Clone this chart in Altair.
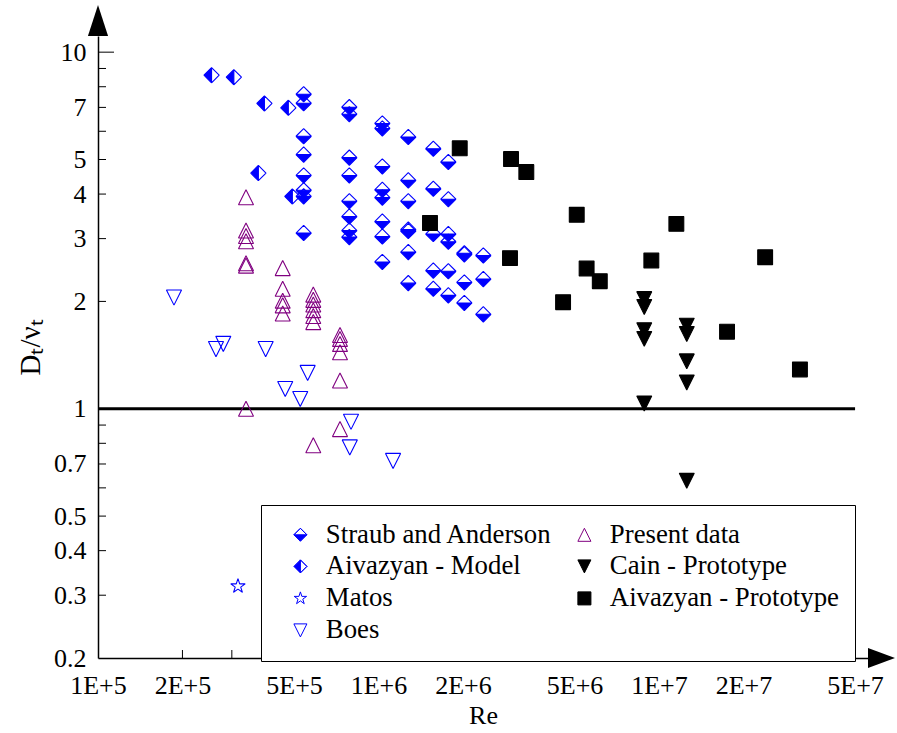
import json
import altair as alt
import pandas as pd

# ---------------- data ----------------
# legend is filled column by column (4 rows x 2 columns)
series_order = ["Straub and Anderson", "Aivazyan - Model", "Matos", "Boes",
                "Present data", "Cain - Prototype", "Aivazyan - Prototype"]

straub_re = [5.41e5] * 8 + [7.87e5] * 8 + [1.032e6] * 8 + [1.277e6] * 7 + \
            [1.568e6] * 5 + [1.774e6] * 6 + [2.023e6] * 4 + [2.364e6] * 3
straub_d = [7.62, 7.19, 5.81, 5.16, 4.51, 4.10, 3.94, 3.11,
            7.01, 6.70, 5.06, 4.51, 3.82, 3.46, 3.16, 3.03,
            6.31, 6.11, 4.78, 4.11, 3.91, 3.35, 3.04, 2.58,
            5.78, 4.37, 3.82, 3.18, 3.15, 2.75, 2.25,
            5.36, 4.14, 3.09, 2.44, 2.17,
            4.92, 3.87, 3.09, 2.94, 2.43, 2.08,
            2.73, 2.71, 2.26, 1.98,
            2.69, 2.31, 1.84]

model_re = [2.54e5, 3.05e5, 3.92e5, 4.77e5, 3.73e5, 4.93e5]
model_d = [8.62, 8.51, 7.18, 6.98, 4.58, 3.94]

matos_re = [3.155e5]
matos_d = [0.318]

boes_re = [1.866e5, 2.634e5, 2.797e5, 3.96e5, 5.59e5, 4.65e5, 5.26e5, 7.98e5, 7.90e5, 1.127e6]
boes_d = [2.05, 1.47, 1.52, 1.47, 1.26, 1.136, 1.065, 0.919, 0.779, 0.714]

present_re = [3.37e5] * 7 + [4.555e5] * 5 + [5.855e5] * 7 + [7.29e5] * 6
present_d = [3.92, 3.16, 3.05, 2.95, 2.56, 2.52, 1.0,
             2.48, 2.17, 2.01, 1.95, 1.85,
             2.09, 2.02, 1.96, 1.89, 1.82, 1.75, 0.79,
             1.61, 1.57, 1.52, 1.44, 1.20, 0.877]

cain_re = [8.86e6] * 5 + [1.256e7] * 5
cain_d = [2.03, 1.93, 1.66, 1.57, 1.035, 1.71, 1.62, 1.358, 1.185, 0.628]

aivproto_re = [1.948e6, 2.968e6, 3.365e6, 5.09e6, 1.153e7, 1.526e6, 2.943e6,
               9.39e6, 2.39e7, 5.52e6, 6.15e6, 4.55e6, 1.748e7, 3.18e7]
aivproto_d = [5.375, 5.015, 4.61, 3.50, 3.30, 3.32, 2.645,
              2.605, 2.66, 2.474, 2.279, 1.99, 1.645, 1.289]

# axis ticks / labels
x_label_values = [1e5, 2e5, 5e5, 1e6, 2e6, 5e6, 1e7, 2e7, 5e7]
x_label_texts = ["1E+5", "2E+5", "5E+5", "1E+6", "2E+6", "5E+6", "1E+7", "2E+7", "5E+7"]
x_minor_ticks = [2e5, 3e5, 4e5, 5e5, 6e5, 7e5, 8e5, 9e5,
                 2e6, 3e6, 4e6, 5e6, 6e6, 7e6, 8e6, 9e6,
                 2e7, 3e7, 4e7, 5e7]
y_label_values = [0.2, 0.3, 0.4, 0.5, 0.7, 1, 2, 3, 4, 5, 7, 10]
y_minor_ticks = [0.3, 0.4, 0.5, 0.6, 0.7, 0.8, 0.9, 2, 3, 4, 5, 6, 7, 8, 9]
y_major_ticks = [1, 10]

x_domain = [1e5, 5.56e7]
y_domain = [0.2, 11.1]
ref_level = 1.0

# ---------------- styling ----------------
FONT = "Liberation Serif"
BLUE = "#0000ff"
PURPLE = "#800080"

shape_paths = {
    "Straub and Anderson": "M -1 0 L 0 1 L 1 0 Z M -1 0 L 0 -1 L 1 0 L 0 -1 Z",
    "Aivazyan - Model": "M 0 -1 L -1 0 L 0 1 Z M 0 -1 L 1 0 L 0 1 L 1 0 Z",
    "Matos": ("M 0 -1 L 0.225 -0.309 L 0.951 -0.309 L 0.363 0.118 L 0.588 0.809 "
              "L 0 0.382 L -0.588 0.809 L -0.363 0.118 L -0.951 -0.309 L -0.225 -0.309 Z"),
    "Boes": "M -1 -1 L 1 -1 L 0 1 Z",
    "Present data": "M 0 -1 L 1 1 L -1 1 Z",
    "Cain - Prototype": "M -1 -1 L 1 -1 L 0 1 Z",
    "Aivazyan - Prototype": "M -1 -1 L 1 -1 L 1 1 L -1 1 Z",
}
stroke_colors = {"Straub and Anderson": BLUE, "Aivazyan - Model": BLUE, "Matos": BLUE,
                 "Boes": BLUE, "Present data": PURPLE, "Cain - Prototype": "black",
                 "Aivazyan - Prototype": "black"}
fill_colors = {"Straub and Anderson": BLUE, "Aivazyan - Model": BLUE, "Matos": "transparent",
               "Boes": "transparent", "Present data": "transparent", "Cain - Prototype": "black",
               "Aivazyan - Prototype": "black"}
marker_sizes = {"Straub and Anderson": 245, "Aivazyan - Model": 245, "Matos": 300,
                "Boes": 215, "Present data": 215, "Cain - Prototype": 235,
                "Aivazyan - Prototype": 220}

rows = []
for name, res, ds in [("Straub and Anderson", straub_re, straub_d),
                      ("Aivazyan - Model", model_re, model_d),
                      ("Boes", boes_re, boes_d),
                      ("Matos", matos_re, matos_d),
                      ("Present data", present_re, present_d),
                      ("Cain - Prototype", cain_re, cain_d),
                      ("Aivazyan - Prototype", aivproto_re, aivproto_d)]:
    for r, d in zip(res, ds):
        rows.append({"series": name, "Re": r, "D": d})
df = pd.DataFrame(rows)

W, H = 770, 622

x_scale = alt.Scale(type="log", domain=x_domain, nice=False)
y_scale = alt.Scale(type="log", domain=y_domain, nice=False)

label_expr = "%s[indexof(%s, datum.value)]" % (json.dumps(x_label_texts), json.dumps(x_label_values))

x_axis = alt.Axis(values=x_label_values, labelExpr=label_expr, title="Re", ticks=False, tickSize=0,
                  grid=False, labelFlush=False, labelOverlap=False, labelPadding=14,
                  titlePadding=4)
y_axis = alt.Axis(values=y_label_values, format="~g", title="Dₜ/νₜ", ticks=False, tickSize=0,
                  grid=False, labelOverlap=False, labelPadding=12, titlePadding=8,
                  titleFontSize=29)

legend = alt.Legend(title=None, orient="none", legendX=163, legendY=469, columns=2,
                    fillColor="white", strokeColor="black", padding=16,
                    labelFont=FONT, labelFontSize=26.8, labelColor="black", labelLimit=500,
                    symbolSize=170, symbolStrokeWidth=1, rowPadding=4, columnPadding=8,
                    symbolOffset=10, labelOffset=12)

# size scale uses a differently ordered domain so that its (hidden) legend
# is not merged with the shape/colour legend
size_domain = list(reversed(series_order))

points = alt.Chart(df).mark_point(filled=False, strokeWidth=1.1, opacity=1, strokeJoin="bevel").encode(
    x=alt.X("Re:Q", scale=x_scale, axis=x_axis),
    y=alt.Y("D:Q", scale=y_scale, axis=y_axis),
    shape=alt.Shape("series:N", scale=alt.Scale(domain=series_order,
                    range=[shape_paths[s] for s in series_order]), legend=legend),
    stroke=alt.Stroke("series:N", scale=alt.Scale(domain=series_order,
                      range=[stroke_colors[s] for s in series_order]), legend=legend),
    fill=alt.Fill("series:N", scale=alt.Scale(domain=series_order,
                  range=[fill_colors[s] for s in series_order]), legend=legend),
    size=alt.Size("series:N", scale=alt.Scale(domain=size_domain,
                  range=[marker_sizes[s] for s in size_domain]), legend=None),
)

line_df = pd.DataFrame({"Re": [x_label_values[0]], "Re2": [x_label_values[-1]], "D": [ref_level]})
ref_line = alt.Chart(line_df).mark_rule(color="black", strokeWidth=3).encode(
    x="Re:Q", x2="Re2:Q", y="D:Q")

ytick_minor = alt.Chart(pd.DataFrame({"D": y_minor_ticks})).mark_rule(color="black", strokeWidth=1).encode(
    y="D:Q", x=alt.value(0), x2=alt.value(8))
ytick_major = alt.Chart(pd.DataFrame({"D": y_major_ticks})).mark_rule(color="black", strokeWidth=1).encode(
    y="D:Q", x=alt.value(0), x2=alt.value(16))
xtick_minor = alt.Chart(pd.DataFrame({"Re": x_minor_ticks})).mark_rule(color="black", strokeWidth=1).encode(
    x="Re:Q", y=alt.value(H), y2=alt.value(H - 8))

x_arrow = alt.Chart(pd.DataFrame({"Re": [x_domain[1]], "D": [y_domain[0]]})).mark_point(
    shape="M 0 -0.74 L 2 0 L 0 0.74 Z", size=729, filled=True, color="black", opacity=1).encode(
    x="Re:Q", y="D:Q")
y_arrow = alt.Chart(pd.DataFrame({"Re": [x_domain[0]], "D": [y_domain[1]]})).mark_point(
    shape="M -0.65 0 L 0 -2 L 0.65 0 Z", size=961, filled=True, color="black", opacity=1).encode(
    x="Re:Q", y="D:Q")

chart = alt.layer(ytick_minor, ytick_major, xtick_minor, ref_line, points, x_arrow, y_arrow).properties(
    width=W, height=H,
    padding={"left": 98, "top": 36, "right": 29, "bottom": 75},
    autosize=alt.AutoSizeParams(type="none"),
    background="white",
).configure_view(strokeWidth=0).configure_axis(
    labelFont=FONT, labelFontSize=26, labelColor="black",
    titleFont=FONT, titleFontSize=26, titleFontWeight="normal", titleColor="black",
    domainColor="black", domainWidth=1.5,
)

chart.save("out.html", embed_options={"renderer": "svg", "actions": False})
